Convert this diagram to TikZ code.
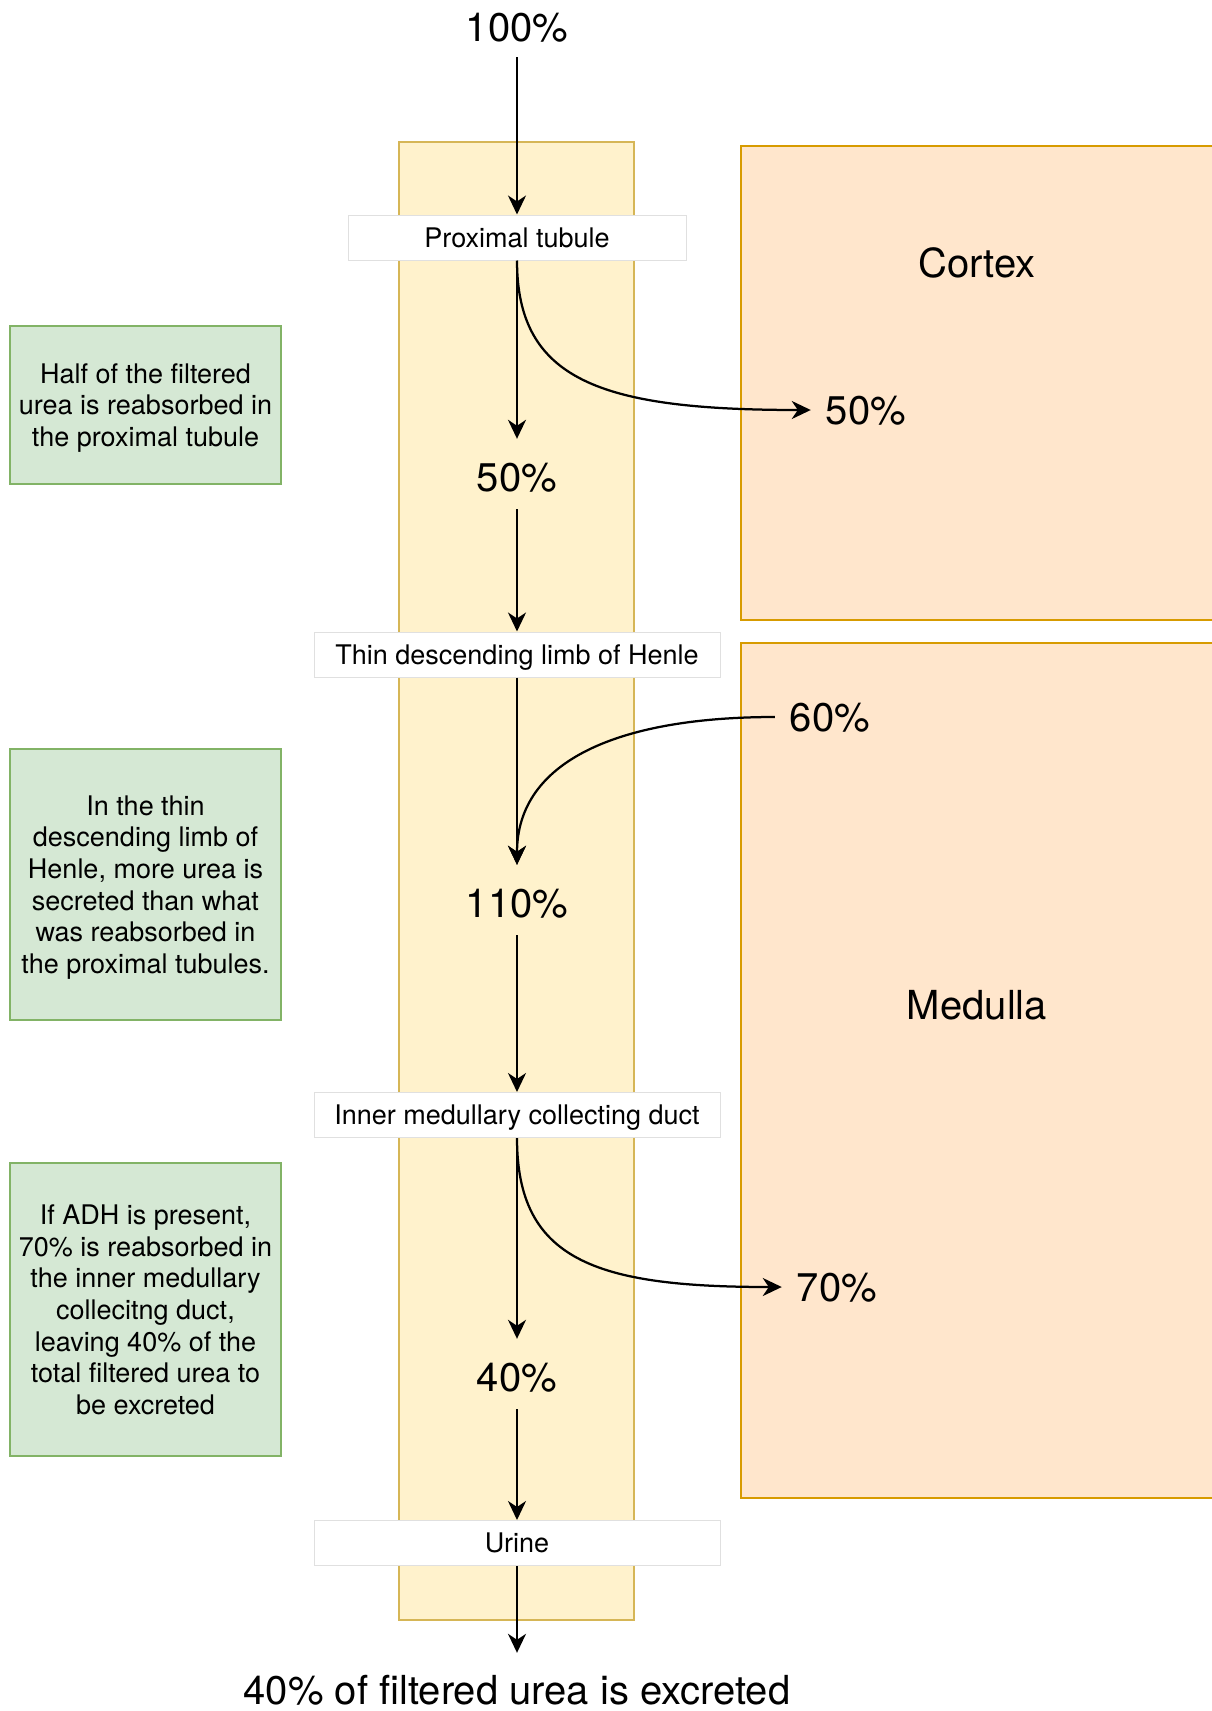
\documentclass[tikz,border=0pt]{standalone}
\usepackage{fontspec}
\setmainfont{TeX Gyre Heros}
\usepackage{tikz}
\usetikzlibrary{positioning, arrows.meta}
\usepackage{xcolor}

\definecolor{tubefill}{HTML}{FFF2CC}
\definecolor{tubeline}{HTML}{D6B656}
\definecolor{zonefill}{HTML}{FFE6CC}
\definecolor{zoneline}{HTML}{D79B00}
\definecolor{notefill}{HTML}{D5E8D4}
\definecolor{noteline}{HTML}{82B366}
\definecolor{stageline}{HTML}{E0E0E0}

\newcommand{\bigtext}{\fontsize{40}{48}\selectfont}
\newcommand{\smalltext}{\fontsize{27}{31.6}\selectfont}

\begin{document}
\begin{tikzpicture}[x=1pt, y=-1pt,
  biglabel/.style={font=\bigtext, text height=28.5pt, text depth=0pt},
  pct/.style={biglabel, inner xsep=15pt, inner ysep=0pt, minimum height=70pt},
  stage/.style={rectangle, draw=stageline, fill=white, line width=1pt, minimum width=406pt, minimum height=45pt, inner sep=0pt, text height=19.5pt, text depth=0pt, font=\smalltext},
  note/.style={rectangle, draw=noteline, fill=notefill, line width=2.25pt, minimum width=271pt, inner sep=0pt, text depth=0pt, align=center, font=\smalltext},
  zone/.style={draw=zoneline, fill=zonefill, line width=2.25pt},
  tube/.style={draw=tubeline, fill=tubefill, line width=2.25pt},
  flow/.style={-{Stealth[length=19pt, width=18pt, inset=6pt]}, line width=2.25pt}]

\useasboundingbox (0,0) rectangle (1212,1711);

%%% CORTEX AND MEDULLA
\draw [zone] (741,146) rectangle (1240,620);
\draw [zone] (741,643) rectangle (1240,1498);
\node [biglabel] (cortex) at (977,263) {Cortex};
\node [biglabel] (medulla) at (977,1005) {Medulla};

%%% TUBULE
\draw [tube] (399,142) rectangle (634,1620);

%%% stages
\node [stage, minimum width=338pt] (proximal) at (517,237.5) {Proximal tubule};
\node [stage] (henle) at (517,654.5) {Thin descending limb of Henle};
\node [stage] (duct) at (517,1115) {Inner medullary collecting duct};
\node [stage] (urine) at (517,1543) {Urine};

%%% percentages along the tubule
\node [pct, minimum height=60pt] (p100) at (517,27) {100\%};
\node [pct, text height=34pt] (p50) at (517,474) {50\%};
\node [pct, text height=34pt] (p110) at (517,900) {110\%};
\node [pct, text height=34pt] (p40) at (517,1374) {40\%};
\node [pct, minimum height=74pt] (excreted) at (517,1690) {40\% of filtered urea is excreted};

%%% percentages leaving / entering
\node [pct] (p50out) at (866,410) {50\%};
\node [pct] (p60in) at (830,717) {60\%};
\node [pct] (p70out) at (837,1287) {70\%};

%%% NOTES
\node [note, minimum height=158pt] (note-proximal) at (145.5,405) {Half of the filtered\\
urea is reabsorbed in\\
the proximal tubule};
\node [note, minimum height=271pt] (note-henle) at (145.5,884.5) {In the thin\\
descending limb of\\
Henle, more urea is\\
secreted than what\\
was reabsorbed in\\
the proximal tubules.};
\node [note, minimum height=293pt] (note-duct) at (145.5,1309.5) {If ADH is present,\\
70\% is reabsorbed in\\
the inner medullary\\
collecitng duct,\\
leaving 40\% of the\\
total filtered urea to\\
be excreted};

%%% connections, arrows
\draw [flow] (p100) -- (proximal);
\draw [flow] (proximal) -- (p50);
\draw [flow] (p50) -- (henle);
\draw [flow] (henle) -- (p110);
\draw [flow] (p110) -- (duct);
\draw [flow] (duct) -- (p40);
\draw [flow] (p40) -- (urine);
\draw [flow] (urine) -- (excreted);

\draw [flow] (proximal.south) .. controls (517,380) and (600,410) .. (p50out.west);
\draw [flow] (p60in.west) .. controls (620,717) and (517,760) .. (p110.north);
\draw [flow] (duct.south) .. controls (517,1260) and (595,1287) .. (p70out.west);

\end{tikzpicture}
\end{document}
